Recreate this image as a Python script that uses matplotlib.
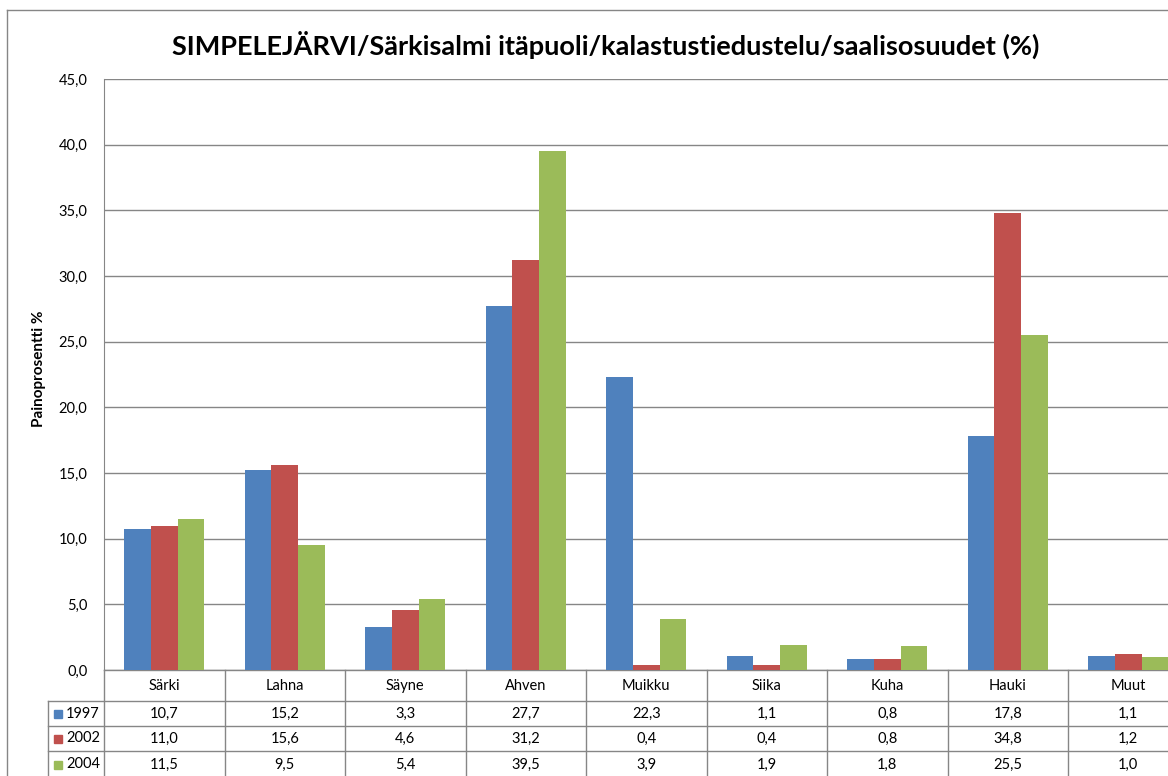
import numpy as np
import matplotlib.pyplot as plt
from matplotlib.lines import Line2D
from matplotlib.ticker import FuncFormatter
import matplotlib.transforms as mtransforms

plt.rcParams['font.family'] = ['Lato', 'DejaVu Sans']

# data
species = ['Särki', 'Lahna', 'Säyne', 'Ahven', 'Muikku', 'Siika', 'Kuha', 'Hauki', 'Muut']
years = ['1997', '2002', '2004']
v1997 = [10.7, 15.2, 3.3, 27.7, 22.3, 1.1, 0.8, 17.8, 1.1]
v2002 = [11.0, 15.6, 4.6, 31.2, 0.4, 0.4, 0.8, 34.8, 1.2]
v2004 = [11.5, 9.5, 5.4, 39.5, 3.9, 1.9, 1.8, 25.5, 1.0]
colors = ['#4F81BD', '#C0504D', '#9BBB59']

W, H = 1168, 776
fig = plt.figure(figsize=(W / 100, H / 100), dpi=100)

# axes in pixel coordinates (right side runs off the picture like the original)
px_left, px_top, px_bottom = 104, 79, 670
cat_w = 120.5
ax = fig.add_axes([px_left / W, (H - px_bottom) / H, 9 * cat_w / W, (px_bottom - px_top) / H])

grid_col = '#868686'
series = [v1997, v2002, v2004]
x = np.arange(len(species))
bw = 1 / 4.5
for i, vals in enumerate(series):
    ax.bar(x + (i - 1) * bw, vals, width=bw, color=colors[i], zorder=3)

ax.set_xlim(-0.5, len(species) - 0.5)
ax.set_ylim(0, 45)
ax.set_yticks(np.arange(0, 46, 5))
ax.yaxis.set_major_formatter(FuncFormatter(lambda v, p: f'{v:.1f}'.replace('.', ',')))
ax.tick_params(axis='y', length=0, pad=12, labelsize=10.5, colors='black')
ax.set_xticks([])
ax.grid(axis='y', color=grid_col, linewidth=1, zorder=0)
for s in ['top', 'right', 'bottom']:
    ax.spines[s].set_visible(False)
ax.spines['left'].set_color(grid_col)
fig.text(39 / W, 1 - 369 / H, 'Painoprosentti %', rotation=90, ha='center', va='center',
         fontsize=11, fontweight='bold')

# data table under the axes
trans = mtransforms.blended_transform_factory(ax.transData, ax.transAxes)
ah = px_bottom - px_top
def ay(py):
    return (px_bottom - py) / ah

rows_y = [670, 701, 726, 751, 778]
leg_x0 = -0.5 - (px_left - 48) / cat_w
xr = len(species) - 0.5
tbl = dict(color=grid_col, linewidth=1, transform=trans, clip_on=False)
ax.add_line(Line2D([-0.5, xr], [ay(670)] * 2, **tbl))
for py in rows_y[1:4]:
    ax.add_line(Line2D([leg_x0, xr], [ay(py)] * 2, **tbl))
for k in range(len(species) + 1):
    ax.add_line(Line2D([k - 0.5] * 2, [ay(670), ay(790)], **tbl))
ax.add_line(Line2D([leg_x0] * 2, [ay(701), ay(790)], **tbl))

for j, name in enumerate(species):
    ax.text(j, ay(686), name, ha='center', va='center', fontsize=10.5,
            transform=trans, clip_on=False)
    for i, vals in enumerate(series):
        yc = (rows_y[i + 1] + rows_y[i + 2]) / 2
        ax.text(j, ay(yc), f'{vals[j]:.1f}'.replace('.', ','), ha='center', va='center',
                fontsize=10.5, transform=trans, clip_on=False)

for i, yr in enumerate(years):
    yc = (rows_y[i + 1] + rows_y[i + 2]) / 2
    kx = leg_x0 + 6 / cat_w
    ax.add_patch(plt.Rectangle((kx, ay(yc + 4)), 8 / cat_w, 8 / ah, color=colors[i],
                               transform=trans, clip_on=False))
    ax.text(kx + 12 / cat_w, ay(yc), yr, ha='left', va='center', fontsize=10.5,
            transform=trans, clip_on=False)

# outer chart border
fig.add_artist(Line2D([7 / W, 7 / W], [0, 1 - 10 / H], color=grid_col, linewidth=1))
fig.add_artist(Line2D([7 / W, 1], [1 - 10 / H] * 2, color=grid_col, linewidth=1))

fig.text(606 / W, 1 - 45 / H, 'SIMPELEJÄRVI/Särkisalmi itäpuoli/kalastustiedustelu/saalisosuudet (%)',
         ha='center', va='center', fontsize=19.5, fontweight='bold')

fig.savefig('out.png', dpi=100)
